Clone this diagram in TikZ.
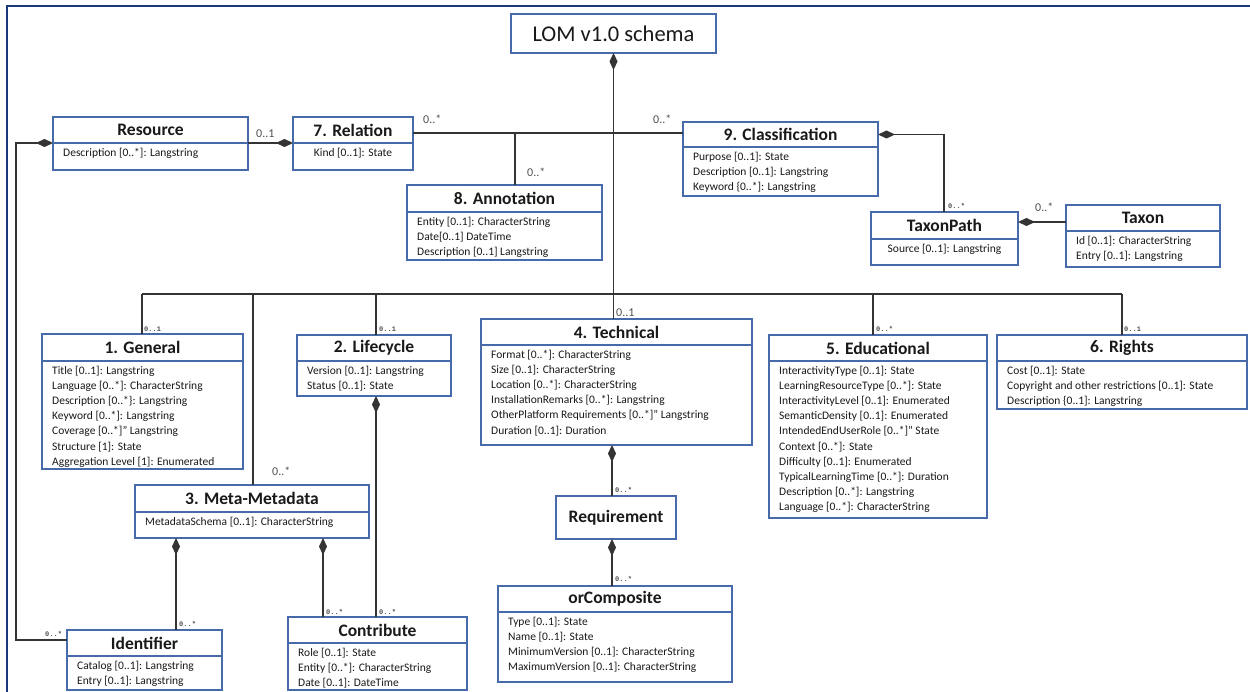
\documentclass[tikz,border=0pt]{standalone}
\usepackage{fontspec}
\setmainfont{Carlito}
\newfontfamily\multmono{Liberation Mono}
\usetikzlibrary{arrows.meta}

\definecolor{boxblue}{RGB}{70,106,170}
\definecolor{wirecol}{RGB}{52,52,52}
\definecolor{framenavy}{RGB}{30,54,122}
\definecolor{multgray}{RGB}{80,80,80}
\definecolor{inkcol}{RGB}{25,25,25}

\tikzset{
  x=1pt, y=-1pt,
  cls/.style={draw=boxblue, line width=1.3pt, inner sep=0pt, outer sep=0pt, text=inkcol},
  ctitle/.style={font=\fontsize{17.5}{20}\selectfont\bfseries, inner sep=0pt, text=inkcol},
  cattr/.style={font=\fontsize{11.5}{15.2}\selectfont, inner sep=0pt, align=left, text=inkcol},
  wire/.style={draw=wirecol, line width=1.8pt},
  comp/.style={wire, {Diamond[length=17pt,width=8pt]}-},
  mult/.style={font=\fontsize{12}{13}\selectfont, text=multgray, inner sep=1pt, anchor=west},
  tinymult/.style={font=\multmono\fontsize{7}{8}\selectfont\bfseries, text=multgray, inner sep=0pt, anchor=west},
}

% class box: name, x1, y1, x2, y of divider, y2, title, attributes (left aligned)
\newcommand\umlclass[8]{%
  \node[cls, anchor=north west, minimum width={(#4-#2)*1pt}, minimum height={(#6-#3)*1pt}] (#1) at (#2,#3) {};
  \draw[boxblue, line width=1.3pt] (#2,#5) -- (#4,#5);
  \node[ctitle] (#1-title) at ({(#2+#4)/2},{(#3+#5)/2}) {#7};
  \node[cattr, anchor=north west] (#1-attrs) at ({#2+10},{#5+4.5}) {#8};
}
% same, with centred attributes
\newcommand\umlclassc[8]{%
  \node[cls, anchor=north west, minimum width={(#4-#2)*1pt}, minimum height={(#6-#3)*1pt}] (#1) at (#2,#3) {};
  \draw[boxblue, line width=1.3pt] (#2,#5) -- (#4,#5);
  \node[ctitle] (#1-title) at ({(#2+#4)/2},{(#3+#5)/2}) {#7};
  \node[cattr, anchor=north, align=center] (#1-attrs) at ({(#2+#4)/2},{#5+4.5}) {#8};
}

\begin{document}
\begin{tikzpicture}
\useasboundingbox[fill=white] (0,0) rectangle (1250,692);

% frame
\draw[framenavy, line width=2.4pt] (7,692) -- (7,6) -- (1250,6);

% root
\node[cls, anchor=north west, minimum width=205pt, minimum height=39pt,
      font=\fontsize{22.5}{24}\selectfont] (lom) at (511,14) {LOM v1.0 schema};

% classes
\umlclass{res}{53}{117}{248}{143}{170}{Resource}{Description [0..*]: Langstring}
\umlclassc{rel}{293}{117}{413}{143}{170}{7. Relation}{Kind [0..1]: State}
\umlclass{ann}{407}{185}{602}{212}{260}{8. Annotation}{Entity [0..1]: CharacterString\\Date[0..1] DateTime\\Description [0..1] Langstring}
\umlclass{clf}{683}{122}{878}{147}{196}{9. Classification}{Purpose [0..1]: State\\Description [0..1]: Langstring\\Keyword \{0..*]: Langstring}
\umlclassc{tp}{871}{212}{1018}{239}{265}{TaxonPath}{Source [0..1]: Langstring}
\umlclass{tx}{1066}{205}{1220}{231}{267}{Taxon}{Id [0..1]: CharacterString\\Entry [0..1]: Langstring}

\umlclass{gen}{42}{334}{243}{361}{469}{1. General}{Title [0..1]: Langstring\\Language [0..*]: CharacterString\\Description [0..*\}: Langstring\\Keyword [0..*]: Langstring\\Coverage [0..*]” Langstring\\Structure [1]: State\\Aggregation Level [1]: Enumerated}
\umlclass{lc}{297}{335}{451}{361}{396}{2. Lifecycle}{Version [0..1]: Langstring\\Status [0..1]: State}
\umlclass{meta}{135}{485}{369}{512}{538}{3. Meta-Metadata}{MetadataSchema [0..1]: CharacterString}
\umlclass{tech}{481}{319}{752}{345}{445}{4. Technical}{Format [0..*]: CharacterString\\Size [0..1]: CharacterString\\Location [0..*]: CharacterString\\InstallationRemarks [0..*]: Langstring\\OtherPlatform Requirements [0..*]” Langstring\\Duration [0..1]: Duration}
\umlclass{edu}{769}{335}{987}{361}{518}{5. Educational}{InteractivityType [0..1]: State\\LearningResourceType [0..*]: State\\InteractivityLevel [0..1]: Enumerated\\SemanticDensity [0..1]: Enumerated\\IntendedEndUserRole [0..*]” State\\Context [0..*]: State\\Difficulty [0..1]: Enumerated\\TypicalLearningTime [0..*]: Duration\\Description [0..*]: Langstring\\Language [0..*]: CharacterString}
\umlclass{rts}{997}{335}{1247}{361}{409}{6. Rights}{Cost [0..1]: State\\Copyright and other restrictions [0..1]: State\\Description \{0..1]: Langstring}

\node[cls, anchor=north west, minimum width=120pt, minimum height=43pt, font=\fontsize{17.5}{20}\selectfont\bfseries] (req) at (556,496) {Requirement};
\umlclass{orc}{498}{586}{732}{612}{682}{orComposite}{Type [0..1]: State\\Name [0..1]: State\\MinimumVersion [0..1]: CharacterString\\MaximumVersion [0..1]: CharacterString}
\umlclass{idf}{67}{630}{222}{656}{690}{Identifier}{Catalog [0..1]: Langstring\\Entry [0..1]: Langstring}
\umlclass{con}{288}{617}{467}{643}{690}{Contribute}{Role [0..1]: State\\Entity [0..*]: CharacterString\\Date [0..1]: DateTime}

% junction points
\coordinate (bus) at (lom.south |- 0,294);
\coordinate (top) at (lom.south |- 0,133);
\coordinate (busW) at (142,294);
\coordinate (busE) at (1122,294);
\coordinate (xMeta) at (253,294);
\coordinate (xLc) at (376,294);
\coordinate (xEdu) at (873,294);
\coordinate (xAnn) at (515,133);
\coordinate (xTp) at (944,0);
\coordinate (xId) at (176,0);
\coordinate (xCon) at (323,0);
\coordinate (xReq) at (612,0);
\coordinate (rail) at (16,0);

% root composition and the two buses
\draw[comp] (lom.south) -- (bus);
\draw[wire] (rel.east |- top) -- (clf.west |- top);
\draw[wire] (busW) -- (busE);
\draw[wire] (xAnn) -- (xAnn |- ann.north);

% drops from the lower bus
\draw[wire] (busW) -- (busW |- gen.north);
\draw[wire] (xMeta) -- (xMeta |- meta.north);
\draw[wire] (xLc) -- (xLc |- lc.north);
\draw[wire] (bus) -- (bus |- tech.north);
\draw[wire] (xEdu) -- (xEdu |- edu.north);
\draw[wire] (busE) -- (busE |- rts.north);

% compositions
\draw[comp] (rel.west |- 0,143) -- (res.east |- 0,143);
\draw[comp] (res.west |- 0,143) -- (rail |- 0,143) -- (rail |- 0,640) -- (idf.west |- 0,640);
\draw[comp] (clf.east |- clf-title) -- (xTp |- clf-title) -- (xTp |- tp.north);
\draw[comp] (tp.east |- 0,222) -- (tx.west |- 0,222);
\draw[comp] (xLc |- lc.south) -- (xLc |- con.north);
\draw[comp] (xId |- meta.south) -- (xId |- idf.north);
\draw[comp] (xCon |- meta.south) -- (xCon |- con.north);
\draw[comp] (xReq |- tech.south) -- (xReq |- req.north);
\draw[comp] (xReq |- req.south) -- (xReq |- orc.north);

% multiplicities
\node[mult] (m1) at (255,134) {0..1};
\node[mult] (m2) at (422,119) {0..*};
\node[mult] (m3) at (526,172) {0..*};
\node[mult] (m4) at (652,119) {0..*};
\node[mult] (m5) at (1034,207) {0..*};
\node[mult] (m6) at (271,471) {0..*};
\node[mult] (m7) at (615,313) {0..1};
\node[tinymult] (m8) at (144,329) {0..1};
\node[tinymult] (m9) at (379,329) {0..1};
\node[tinymult] (m10) at (876,329) {0..*};
\node[tinymult] (m11) at (1124,329) {0..1};
\node[tinymult] (m12) at (326,612) {0..*};
\node[tinymult] (m13) at (379,612) {0..*};
\node[tinymult] (m14) at (179,624) {0..*};
\node[tinymult] (m15) at (45,634) {0..*};
\node[tinymult] (m16) at (615,490) {0..*};
\node[tinymult] (m17) at (615,579) {0..*};
\node[tinymult] (m18) at (948,206) {0..*};
\end{tikzpicture}
\end{document}
